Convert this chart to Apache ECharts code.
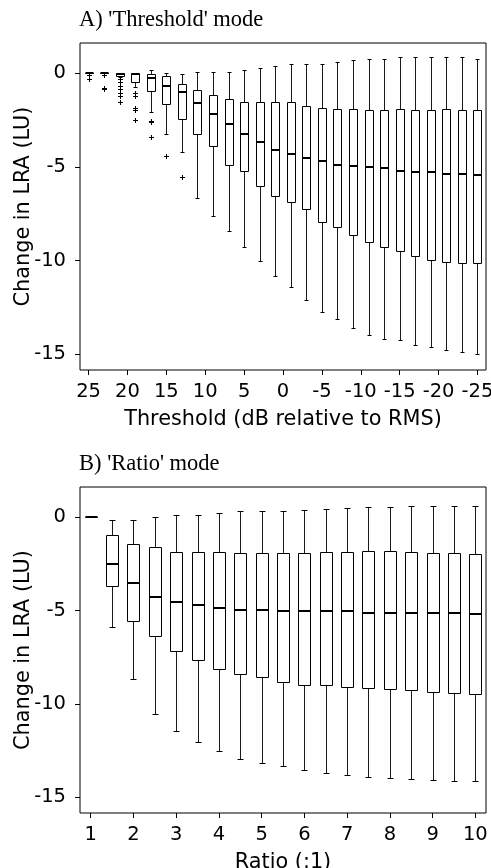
<!DOCTYPE html>
<html>
<head>
<meta charset="utf-8">
<script src="https://cdn.jsdelivr.net/npm/echarts@6/dist/echarts.min.js"></script>
<style>
html,body{margin:0;padding:0;background:#fff;}
#chart{width:491px;height:868px;}
</style>
</head>
<body>
<div id="chart"></div>
<script>
// ---------- Panel A: 'Threshold' mode ----------
const thrValues = [25,23,21,19,17,15,13,11,9,7,5,3,1,-1,-3,-5,-7,-9,-11,-13,-15,-17,-19,-21,-23,-25];
const thrHigh = [0,0,0,0,0.14,-0.02,-0.07,0.03,0.03,0.03,0.14,0.25,0.38,0.46,0.5,0.5,0.57,0.68,0.76,0.76,0.84,0.84,0.84,0.84,0.84,0.76];
const thrQ3   = [0,0,0,0,-0.04,-0.18,-0.59,-0.92,-1.17,-1.39,-1.53,-1.53,-1.56,-1.56,-1.74,-1.85,-1.92,-1.92,-1.96,-1.96,-1.92,-1.96,-1.96,-1.92,-1.96,-1.96];
const thrMed  = [0,0,-0.03,-0.04,-0.27,-0.68,-1.0,-1.58,-2.17,-2.74,-3.27,-3.68,-4.09,-4.30,-4.52,-4.68,-4.89,-4.94,-5.03,-5.08,-5.21,-5.26,-5.30,-5.37,-5.37,-5.42];
const thrQ1   = [0,-0.02,-0.14,-0.48,-0.98,-1.64,-2.45,-3.27,-3.9,-4.9,-5.22,-6.0,-6.54,-6.90,-7.25,-7.93,-8.20,-8.66,-9.03,-9.26,-9.51,-9.78,-9.99,-10.08,-10.13,-10.13];
const thrLow  = [0,0,-0.22,-0.75,-2.1,-3.27,-4.22,-6.68,-7.6,-8.45,-9.3,-10.03,-10.84,-11.41,-12.12,-12.73,-13.12,-13.6,-13.99,-14.19,-14.24,-14.51,-14.6,-14.77,-14.86,-14.97];
// outliers: [threshold, value]
const thrOutlierX = [25,25,23,23,23,21,21,21,21,21,21,21,19,19,19,19,19,17,17,17,15,13];
const thrOutlierY = [-0.1,-0.3,-0.12,-0.78,-0.85,-0.32,-0.5,-0.68,-0.85,-1.07,-1.25,-1.57,-1.07,-1.21,-1.87,-1.99,-2.53,-2.58,-2.63,-3.43,-4.45,-5.55];
const thrTicks = [25,20,15,10,5,0,-5,-10,-15,-20,-25];

// ---------- Panel B: 'Ratio' mode ----------
const ratioValues = [1,1.5,2,2.5,3,3.5,4,4.5,5,5.5,6,6.5,7,7.5,8,8.5,9,9.5,10];
const ratHigh = [0,-0.12,-0.12,0,0.11,0.14,0.25,0.32,0.37,0.37,0.41,0.45,0.50,0.55,0.55,0.59,0.59,0.59,0.59];
const ratQ3   = [0,-0.96,-1.41,-1.60,-1.85,-1.85,-1.85,-1.91,-1.91,-1.91,-1.91,-1.87,-1.87,-1.82,-1.82,-1.87,-1.91,-1.91,-1.96];
const ratMed  = [0,-2.50,-3.51,-4.24,-4.55,-4.69,-4.85,-4.94,-4.94,-4.99,-5.04,-5.04,-5.04,-5.10,-5.13,-5.13,-5.13,-5.13,-5.19];
const ratQ1   = [0,-3.65,-5.53,-6.36,-7.18,-7.63,-8.11,-8.38,-8.57,-8.81,-9.0,-9.0,-9.09,-9.14,-9.20,-9.25,-9.34,-9.39,-9.45];
const ratLow  = [0,-5.86,-8.65,-10.52,-11.46,-12.03,-12.53,-12.93,-13.16,-13.34,-13.55,-13.69,-13.78,-13.89,-13.99,-14.03,-14.08,-14.14,-14.14];
const ratTicks = [1,2,3,4,5,6,7,8,9,10];

const yTicks = [-15,-10,-5,0];

function boxData(xs, lo, q1, md, q3, hi) {
  return xs.map((x, i) => [x, lo[i], q1[i], md[i], q3[i], hi[i]]);
}

function makeBoxRenderer(boxW) {
  return function (params, api) {
    const x = api.value(0);
    const lo = api.coord([x, api.value(1)]);
    const q1 = api.coord([x, api.value(2)]);
    const md = api.coord([x, api.value(3)]);
    const q3 = api.coord([x, api.value(4)]);
    const hi = api.coord([x, api.value(5)]);
    const w = Math.abs(api.size([boxW, 0])[0]);
    const cx = Math.round(lo[0]) + 0.5;
    const half = Math.round(w / 2);
    const capHalf = Math.round(w * 0.28);
    const L = cx - half, R = cx + half;
    const ry = v => Math.round(v) + 0.5;
    const wl = { stroke: '#1a1a1a', lineWidth: 1 };
    const children = [
      { type: 'line', shape: { x1: cx, y1: ry(q3[1]), x2: cx, y2: ry(hi[1]) }, style: wl },
      { type: 'line', shape: { x1: cx, y1: ry(q1[1]), x2: cx, y2: ry(lo[1]) }, style: wl },
      { type: 'line', shape: { x1: cx - capHalf, y1: ry(hi[1]), x2: cx + capHalf, y2: ry(hi[1]) }, style: { stroke: '#000', lineWidth: 1 } },
      { type: 'line', shape: { x1: cx - capHalf, y1: ry(lo[1]), x2: cx + capHalf, y2: ry(lo[1]) }, style: { stroke: '#000', lineWidth: 1 } },
      { type: 'rect', shape: { x: L, y: ry(q3[1]), width: R - L, height: ry(q1[1]) - ry(q3[1]) }, style: { fill: '#fff', stroke: '#000', lineWidth: 1 } },
      { type: 'line', shape: { x1: L, y1: Math.round(md[1]), x2: R, y2: Math.round(md[1]) }, style: { stroke: '#000', lineWidth: 2 } }
    ];
    return { type: 'group', children: children };
  };
}

function plusRenderer(params, api) {
  const p = api.coord([api.value(0), api.value(1)]);
  const cx = Math.round(p[0]) + 0.5, cy = Math.round(p[1]) + 0.5;
  const s = 2.5;
  return {
    type: 'group',
    children: [
      { type: 'line', shape: { x1: cx - s, y1: cy, x2: cx + s, y2: cy }, style: { stroke: '#000', lineWidth: 1 } },
      { type: 'line', shape: { x1: cx, y1: cy - s, x2: cx, y2: cy + s }, style: { stroke: '#000', lineWidth: 1 } }
    ]
  };
}

const tickFont = { fontFamily: 'DejaVu Sans', fontSize: 19.5, color: '#000' };
const nameFont = { fontFamily: 'DejaVu Sans', fontSize: 20.8, color: '#000' };
const titleFont = { fontFamily: 'Liberation Serif', fontSize: 22.5, fontWeight: 'normal', color: '#000' };

function xAxisCfg(grid, min, max, inverse, ticks, name) {
  return {
    type: 'value', gridIndex: grid, min: min, max: max, inverse: inverse,
    name: name, nameLocation: 'middle', nameGap: 39, nameTextStyle: nameFont, nameMoveOverlap: false,
    axisLine: { show: false, onZero: false },
    axisTick: { show: true, inside: false, length: 5, lineStyle: { color: '#000', width: 1 }, customValues: ticks },
    axisLabel: Object.assign({ margin: 12, customValues: ticks, hideOverlap: false, showMinLabel: true, showMaxLabel: true }, tickFont),
    splitLine: { show: false }
  };
}
function yAxisCfg(grid, min, max) {
  return {
    type: 'value', gridIndex: grid, min: min, max: max,
    name: 'Change in LRA (LU)', nameLocation: 'middle', nameGap: 46, nameTextStyle: nameFont, nameMoveOverlap: false,
    axisLine: { show: false, onZero: false },
    axisTick: { show: true, inside: false, length: 5, lineStyle: { color: '#000', width: 1 }, customValues: yTicks },
    axisLabel: Object.assign({ margin: 14, customValues: yTicks }, tickFont),
    splitLine: { show: false }
  };
}

const gridBase = { show: true, borderColor: '#000', borderWidth: 1, backgroundColor: 'transparent', containLabel: false, outerBoundsMode: 'none' };

const chart = echarts.init(document.getElementById('chart'), null, { renderer: 'canvas' });
chart.setOption({
  animation: false,
  backgroundColor: '#fff',
  title: [
    { text: "A) 'Threshold' mode", left: 79, top: 9, padding: 0, textStyle: titleFont },
    { text: "B) 'Ratio' mode", left: 79, top: 453, padding: 0, textStyle: titleFont }
  ],
  grid: [
    Object.assign({ left: 80, top: 43, width: 406, height: 327 }, gridBase),
    Object.assign({ left: 80, top: 487, width: 406, height: 326 }, gridBase)
  ],
  xAxis: [
    xAxisCfg(0, -26.1, 26.1, true, thrTicks, 'Threshold (dB relative to RMS)'),
    xAxisCfg(1, 0.75, 10.25, false, ratTicks, 'Ratio (:1)')
  ],
  yAxis: [
    yAxisCfg(0, -15.84, 1.6),
    yAxisCfg(1, -15.84, 1.63)
  ],
  series: [
    { type: 'custom', xAxisIndex: 0, yAxisIndex: 0, renderItem: makeBoxRenderer(1.0),
      encode: { x: 0, y: [1, 2, 3, 4, 5] },
      data: boxData(thrValues, thrLow, thrQ1, thrMed, thrQ3, thrHigh), clip: true, silent: true },
    { type: 'custom', xAxisIndex: 0, yAxisIndex: 0, renderItem: plusRenderer,
      encode: { x: 0, y: 1 },
      data: thrOutlierX.map((x, i) => [x, thrOutlierY[i]]), clip: true, silent: true },
    { type: 'custom', xAxisIndex: 1, yAxisIndex: 1, renderItem: makeBoxRenderer(0.26),
      encode: { x: 0, y: [1, 2, 3, 4, 5] },
      data: boxData(ratioValues, ratLow, ratQ1, ratMed, ratQ3, ratHigh), clip: true, silent: true }
  ]
});
</script>
</body>
</html>
